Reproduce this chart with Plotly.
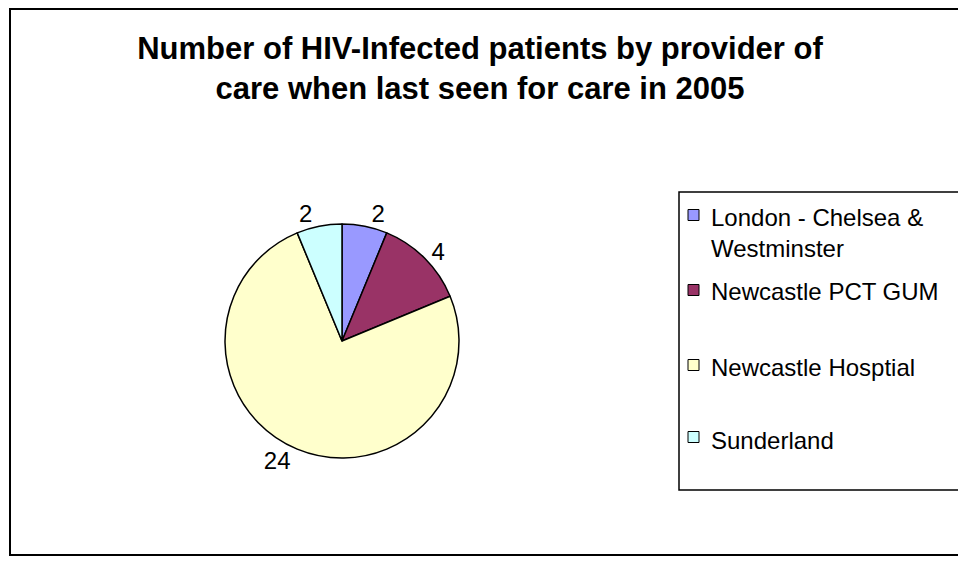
import plotly.graph_objects as go

# The page body has an 8px margin, so the figure is sized to fit exactly inside the window
OFF = 8
W, H = 966 - OFF, 562 - OFF

providers = ["London - Chelsea & Westminster", "Newcastle PCT GUM", "Newcastle Hosptial", "Sunderland"]
legend_labels = ["London - Chelsea &<br>Westminster", "Newcastle PCT GUM", "Newcastle Hosptial", "Sunderland"]
patients = [2, 4, 24, 2]
colors = ["#9999FF", "#993366", "#FFFFCC", "#CCFFFF"]
title_text = "Number of HIV-Infected patients by provider of<br>care when last seen for care in 2005"

FONT = "Liberation Sans, Arial, sans-serif"

def px(x):
    return (x - OFF) / W

def py(y):
    return 1 - (y - OFF) / H

cx, cy, r = 342, 341, 117

fig = go.Figure()
fig.add_trace(go.Pie(
    labels=providers,
    values=patients,
    sort=False,
    direction="clockwise",
    rotation=0,
    marker=dict(colors=colors, line=dict(color="#000000", width=1.5)),
    textinfo="value",
    textposition="outside",
    textfont=dict(family=FONT, size=24, color="#000000"),
    domain=dict(x=[px(cx - r), px(cx + r)], y=[py(cy + r), py(cy - r)]),
    showlegend=False,
    automargin=False,
))

shapes = [
    dict(type="rect", xref="paper", yref="paper", x0=px(10), x1=px(985), y0=py(555), y1=py(9),
         line=dict(color="#000000", width=2), fillcolor="rgba(0,0,0,0)", layer="above"),
    dict(type="rect", xref="paper", yref="paper", x0=px(679), x1=px(961), y0=py(490), y1=py(192),
         line=dict(color="#000000", width=1.5), fillcolor="rgba(0,0,0,0)", layer="above"),
]

annotations = []
row_y = [215, 290, 365, 437]
text_y = [233, 291.5, 367, 440]
for i, lab in enumerate(legend_labels):
    shapes.append(dict(type="rect", xref="paper", yref="paper",
                       x0=px(688), x1=px(699), y0=py(row_y[i] + 5.5), y1=py(row_y[i] - 5.5),
                       line=dict(color="#000000", width=1), fillcolor=colors[i], layer="above"))
    annotations.append(dict(xref="paper", yref="paper", x=px(709), y=py(text_y[i]),
                            xanchor="left", yanchor="middle", align="left", showarrow=False,
                            text=lab, font=dict(family=FONT, size=24, color="#000000")))

fig.update_layout(
    width=W, height=H,
    margin=dict(l=0, r=0, t=0, b=0),
    paper_bgcolor="#FFFFFF",
    plot_bgcolor="#FFFFFF",
    title=dict(text=title_text, x=px(480), y=py(59), xref="paper", yref="paper",
               xanchor="center", yanchor="middle",
               font=dict(family=FONT, size=31, color="#000000", weight="bold")),
    shapes=shapes,
    annotations=annotations,
    showlegend=False,
)

fig.write_html("out.html")
